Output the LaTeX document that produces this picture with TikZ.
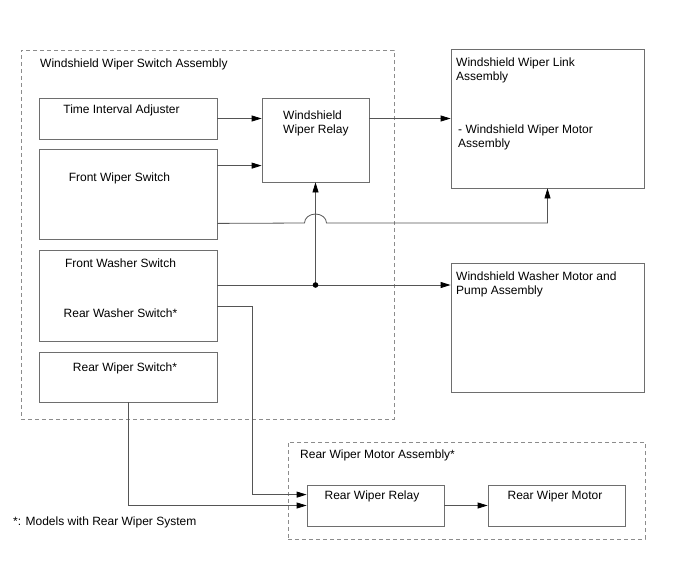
\documentclass[tikz,border=0pt]{standalone}
\usepackage{fontspec}
\setmainfont{Liberation Sans}
\usetikzlibrary{arrows.meta,fit}
\definecolor{linec}{RGB}{85,85,85}
\definecolor{boxc}{RGB}{110,110,110}
\definecolor{dashc}{RGB}{140,140,140}
\begin{document}
\begin{tikzpicture}[x=1pt,y=-1pt,
  box/.style={draw=boxc,line width=0.8pt,inner sep=0pt},
  dbox/.style={draw=dashc,line width=0.8pt,dash pattern=on 4pt off 3pt,inner sep=0pt},
  txt/.style={inner sep=0pt,font=\fontsize{12}{14}\selectfont,align=left},
  conn/.style={draw=linec,line width=0.8pt},
  arr/.style={conn,-{Triangle[length=10pt,width=6pt,fill=black,color=black]}},
  dot/.style={fill=black}
]
\useasboundingbox (0,0) rectangle (688,560);
% containers
\node[dbox,fit={(21,50)(394,419)}] (wsa) {};
\node[dbox,fit={(288,442)(645,539)}] (rma) {};
% boxes
\node[box,fit={(39,98)(217,139)}] (tia) {};
\node[box,fit={(262,98)(369,182)}] (relay) {};
\node[box,fit={(39,149)(217,239)}] (fws) {};
\node[box,fit={(39,250)(217,341)}] (fwash) {};
\node[box,fit={(39,352)(217,402)}] (rws) {};
\node[box,fit={(451,49)(644,188)}] (link) {};
\node[box,fit={(451,263)(644,392)}] (washer) {};
\node[box,fit={(307,485)(444,526)}] (rrelay) {};
\node[box,fit={(488,485)(625,526)}] (rmotor) {};
% texts
\node[txt,anchor=base west] (t1) at (40,67) {Windshield Wiper Switch Assembly};
\node[txt,anchor=base] (t2) at (121.5,113) {Time Interval Adjuster};
\node[txt,anchor=north west] (t3) at (283,110.6) {Windshield\\Wiper Relay};
\node[txt,anchor=base] (t4) at (119.5,181) {Front Wiper Switch};
\node[txt,anchor=base] (t5) at (120.5,267) {Front Washer Switch};
\node[txt,anchor=base] (t6) at (120.5,317) {Rear Washer Switch*};
\node[txt,anchor=base] (t7) at (125,371) {Rear Wiper Switch*};
\node[txt,anchor=north west] (t8) at (456,57.6) {Windshield Wiper Link\\Assembly};
\node[txt,anchor=north west] (t9) at (458,124.6) {- Windshield Wiper Motor\\Assembly};
\node[txt,anchor=north west] (t10) at (456,271.6) {Windshield Washer Motor and\\Pump Assembly};
\node[txt,anchor=base west] (t11) at (300,458) {Rear Wiper Motor Assembly*};
\node[txt,anchor=base] (t12) at (372,499) {Rear Wiper Relay};
\node[txt,anchor=base] (t13) at (555,499) {Rear Wiper Motor};
\node[txt,anchor=base west] (t14) at (13,525) {*: Models with Rear Wiper System};
% helper coordinates
\coordinate (hopc) at (315.5,223);
\coordinate (j) at (315.5,285);
\coordinate (bw) at (252,306);
\coordinate (f1) at ([yshift=-17pt]fws.north east);
% connectors
\draw[arr] (tia.east) -- (tia.east -| relay.west);
\draw[arr] (f1) -- (f1 -| relay.west);
\draw[arr] (tia.east -| relay.east) -- (tia.east -| link.west);
\draw[arr] ([yshift=16pt]fws.south east) -- ([xshift=-11pt]hopc)
  arc[start angle=180,end angle=0,x radius=11pt,y radius=9pt] -| (link.south);
\draw[arr] (j) -- (relay.south);
\draw[arr] (fwash.east |- j) -- (washer.west |- j);
\fill[dot] (j) circle[radius=2.8pt];
\draw[arr] (fwash.east |- bw) -- (bw) |- ([yshift=-10pt]rrelay.north west);
\draw[arr] (rws.south) |- (rrelay.west);
\draw[arr] (rrelay.east) -- (rmotor.west);
\end{tikzpicture}
\end{document}
